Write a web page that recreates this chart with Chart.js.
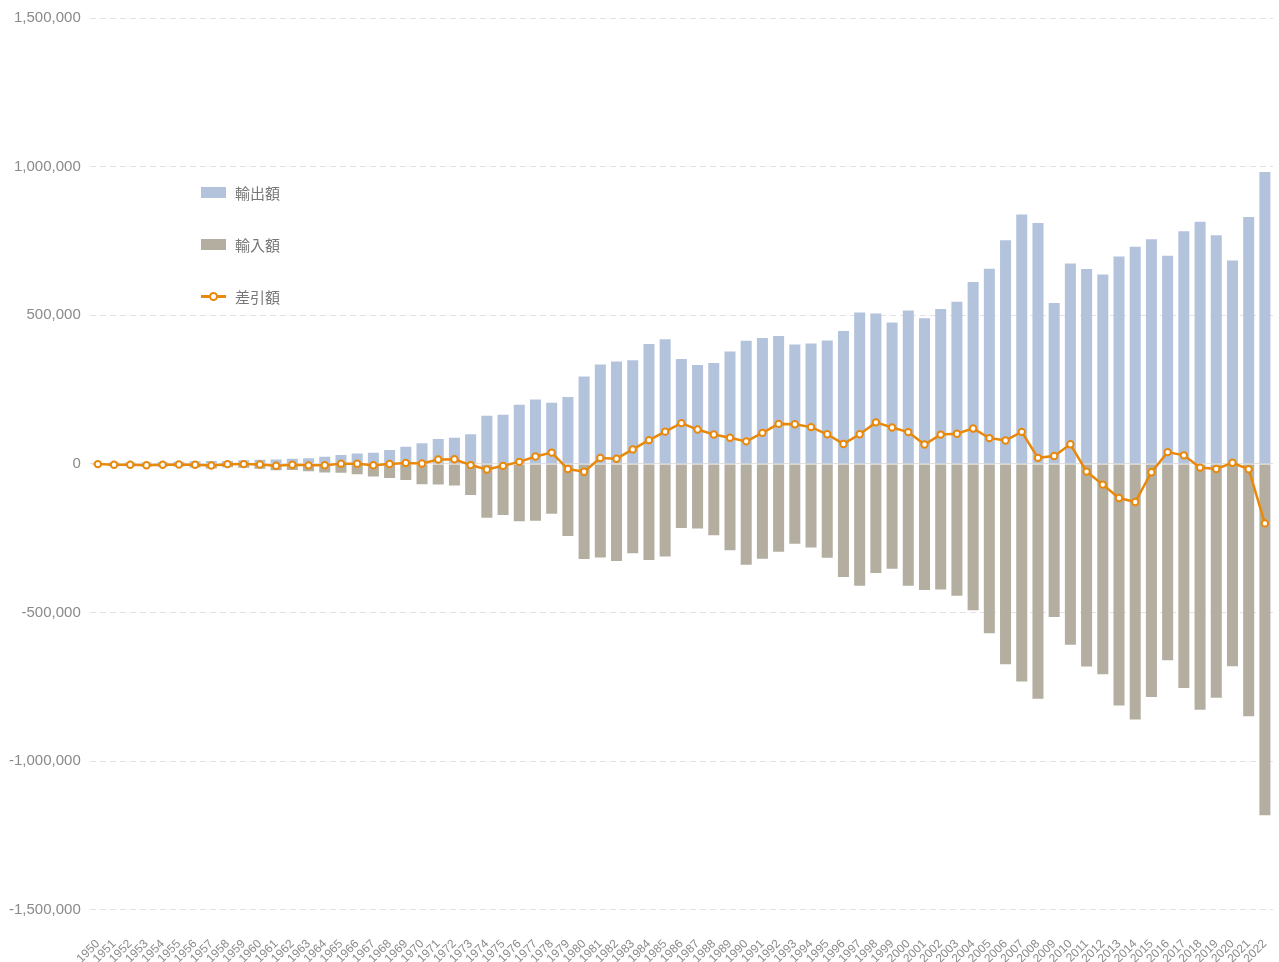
<!DOCTYPE html>
<html lang="ja">
<head>
<meta charset="utf-8">
<title>輸出入額の推移</title>
<script src="https://cdn.jsdelivr.net/npm/chart.js@4.4.1/dist/chart.umd.min.js"></script>
<style>
    html, body {
        margin: 0;
        padding: 0;
        background: #fff;
        overflow: hidden;
    }
    #wrap {
        position: relative;
        width: 1279px;
        height: 985px;
    }
    #legend {
        position: absolute;
        left: 201px;
        top: 180px;
        font-family: "Liberation Sans", "Noto Sans CJK JP", sans-serif;
        font-size: 15px;
        color: #777;
    }
    .fila {
        display: flex;
        align-items: center;
        height: 24px;
        margin-bottom: 28px;
    }
    .caja {
        width: 25px;
        height: 11px;
        margin-right: 9px;
    }
    .linea {
        position: relative;
        width: 25px;
        height: 3px;
        margin-right: 9px;
        background: #e8890c;
    }
    .linea span {
        position: absolute;
        left: 8px;
        top: -3px;
        width: 5px;
        height: 5px;
        border: 2px solid #e8890c;
        border-radius: 50%;
        background: #fff;
    }
</style>
</head>
<body>
<div id="wrap">
    <canvas id="graficoComercio"></canvas>
    <div id="legend">
        <div class="fila"><div class="caja" style="background:#b3c3dc"></div>輸出額</div>
        <div class="fila"><div class="caja" style="background:#b4aea1"></div>輸入額</div>
        <div class="fila"><div class="linea"><span></span></div>差引額</div>
    </div>
</div>
<script>

const anios = [];
for (let a = 1950; a <= 2022; a++) {
    anios.push(String(a));
}

// 輸出額 (億円)
const exportaciones = [
    2980, 4888, 4582, 4590, 5864, 7238, 9005, 10290, 10355, 12445,
    14596, 15228, 17701, 19632, 24023, 30426, 35195, 37563, 46754, 57564,
    69544, 83928, 88061, 100314, 162079, 165453, 199346, 216481, 205558, 225315,
    293825, 334690, 344325, 349093, 403253, 419557, 352897, 333152, 339392, 378225,
    414569, 423599, 430123, 402024, 404976, 415309, 447313, 509380, 506450, 475476,
    516542, 489792, 521090, 545484, 611700, 656565, 752462, 839314, 810181, 541706,
    673996, 655465, 637476, 697742, 730930, 756139, 700358, 782865, 814788, 769317,
    683991, 830914, 981736
];

// 輸入額 (億円, マイナス表示)
const importaciones = [
    -3482, -7369, -7310, -8697, -8642, -8897, -11628, -15421, -10950, -12948,
    -16168, -20990, -20283, -24305, -28575, -29408, -34283, -41987, -46987, -53994,
    -67972, -69100, -72290, -104044, -180764, -171700, -192292, -191318, -167276, -242454,
    -319953, -314641, -326563, -300148, -323211, -310849, -215507, -217369, -240063, -289786,
    -338552, -319002, -295274, -268264, -281043, -315488, -379934, -409562, -366536, -352680,
    -409384, -424155, -422275, -443620, -492166, -569494, -673443, -731359, -789547, -514994,
    -607650, -681112, -706886, -812425, -859091, -784055, -660420, -753792, -827033, -785995,
    -680108, -848750, -1181573
];

// 差引額 (億円)
const saldo = [
    -502, -2481, -2728, -4107, -2778, -1659, -2623, -5131, -595, -503,
    -1572, -5762, -2582, -4673, -4552, 1018, 912, -4424, -233, 3570,
    1572, 14828, 15771, -3730, -18685, -6247, 7054, 25163, 38282, -17139,
    -26128, 20049, 17762, 48945, 80042, 108708, 137390, 115783, 99329, 88439,
    76017, 104597, 134849, 133760, 123933, 99821, 67379, 99818, 139914, 122796,
    107158, 65637, 98815, 101864, 119534, 87071, 79019, 107955, 20634, 26712,
    66346, -25647, -69410, -114683, -128161, -27916, 39938, 29073, -12245, -16678,
    3883, -17836, -199837
];

const ticksY = [-1500000, -1000000, -500000, 0, 500000, 1000000, 1500000];

const grisTexto = "#8a8a8a";
const fuente = "'Liberation Sans', 'Noto Sans CJK JP', sans-serif";

new Chart(
    document.getElementById("graficoComercio"),
    {
        type: "bar",
        data: {
            labels: anios,
            datasets: [
                {
                    type: "line",
                    label: "差引額",
                    data: saldo,
                    borderColor: "#e8890c",
                    borderWidth: 2.5,
                    pointRadius: 3.2,
                    pointBorderWidth: 2,
                    pointBackgroundColor: "#fff",
                    pointBorderColor: "#e8890c",
                    tension: 0,
                    order: 0
                },
                {
                    label: "輸出額",
                    data: exportaciones,
                    backgroundColor: "#b3c3dc",
                    grouped: false,
                    barPercentage: 0.68,
                    categoryPercentage: 1,
                    order: 1
                },
                {
                    label: "輸入額",
                    data: importaciones,
                    backgroundColor: "#b4aea1",
                    grouped: false,
                    barPercentage: 0.68,
                    categoryPercentage: 1,
                    order: 2
                }
            ]
        },
        options: {
            responsive: true,
            maintainAspectRatio: false,
            animation: false,
            layout: {
                padding: { left: 0, right: 6, top: 2, bottom: 0 }
            },
            plugins: {
                legend: { display: false },
                tooltip: { enabled: false }
            },
            scales: {
                x: {
                    afterFit: axis => {
                        axis.paddingLeft = 0;
                        axis.paddingRight = 0;
                    },
                    grid: { display: false },
                    border: { display: false },
                    ticks: {
                        autoSkip: false,
                        minRotation: 45,
                        maxRotation: 45,
                        padding: 19,
                        color: grisTexto,
                        font: { family: fuente, size: 12 }
                    }
                },
                y: {
                    min: -1500000,
                    max: 1500000,
                    afterBuildTicks: axis => {
                        axis.ticks = ticksY.map(v => ({ value: v }));
                    },
                    grid: {
                        color: "#e2e2e2",
                        lineWidth: 1,
                        drawTicks: false
                    },
                    border: {
                        display: false,
                        dash: ctx => (ctx.tick && ctx.tick.value === 0) ? [] : [6, 4]
                    },
                    ticks: {
                        padding: 9,
                        color: grisTexto,
                        font: { family: fuente, size: 15 },
                        callback: v => Number(v).toLocaleString("en-US")
                    }
                }
            }
        }
    }
);

</script>
</body>
</html>
